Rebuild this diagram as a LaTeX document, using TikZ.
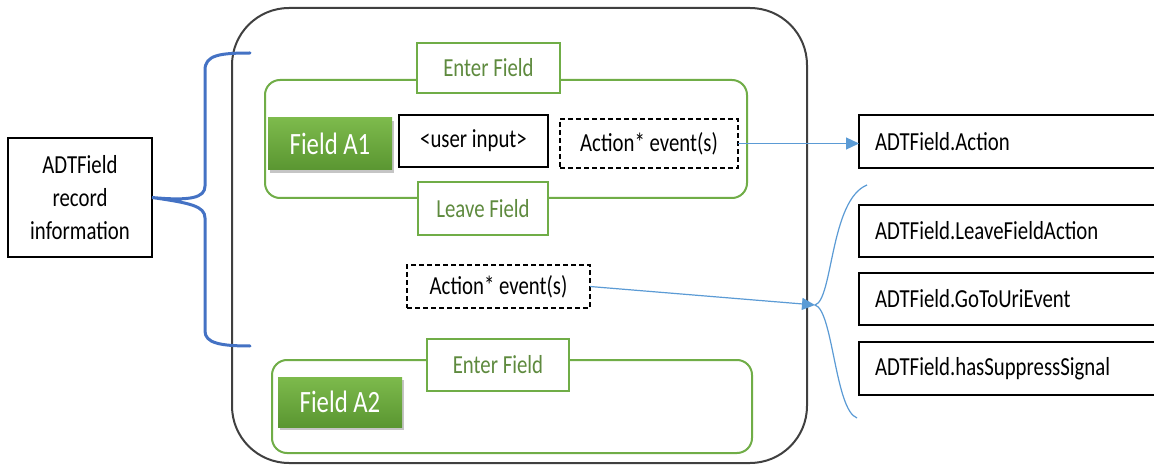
\documentclass[tikz,border=0pt]{standalone}
\usepackage{fontspec}
\setmainfont{Carlito}[FakeStretch=0.8]
\usetikzlibrary{arrows.meta,shadows}
\definecolor{gline}{HTML}{70AD47}
\definecolor{gtext}{HTML}{5E8A3E}
\definecolor{gtop}{HTML}{7DBA4C}
\definecolor{gbot}{HTML}{5A9631}
\definecolor{bracecol}{HTML}{4472C4}
\definecolor{conncol}{HTML}{5B9BD5}
\definecolor{outercol}{HTML}{404040}
\begin{document}
\begin{tikzpicture}[x=1pt,y=-1pt,
  every node/.style={inner sep=0pt, outer sep=0pt},
  txt/.style={font=\fontsize{26}{33}\selectfont},
  bbox/.style={draw=black, line width=1.8pt, fill=white, txt},
  dbox/.style={draw=black, line width=1.8pt, dash pattern=on 5pt off 3pt, fill=white, txt},
  grp/.style={draw=gline, line width=2pt, rounded corners=15pt},
  gbox/.style={draw=gline, line width=2pt, fill=white, text=gtext, txt},
  fblock/.style={top color=gtop, bottom color=gbot, text=white, font=\fontsize{31}{36}\selectfont, drop shadow={shadow xshift=2pt, shadow yshift=-3pt, opacity=0.45}},
  rbox/.style={draw=black, line width=1.8pt, fill=white, txt, anchor=west, text width=288pt, align=left, inner xsep=16pt},
  conn/.style={draw=conncol, line width=1.2pt},
  tipped/.style={-{Triangle[length=13pt,width=12pt]}}
]
\useasboundingbox (0,0) rectangle (1154,465);
\clip (0,0) rectangle (1154,465);
\fill[white] (0,0) rectangle (1154,465);

% outer container
\node[draw=outercol, line width=2pt, rounded corners=57pt, minimum width=575pt, minimum height=455pt] (outer) at (519.5,235.5) {};

% left info box
\node[bbox, minimum width=144pt, minimum height=119pt, align=center] (adt) at (80,197.5) {ADTField\\record\\information};

% brace
\draw[bracecol, line width=3pt, line cap=round]
  (250,53) .. controls (220,53) and (205,55) .. (205,70) -- (205,186)
  .. controls (205,198) and (190,201) .. (adt.east)
  .. controls (190,203) and (205,206) .. (205,218) -- (205,331)
  .. controls (205,343) and (220,346) .. (250,346);

% Field A1 group
\node[grp, minimum width=482pt, minimum height=118pt] (grpA) at (506,139) {};
\node[gbox, minimum width=143pt, minimum height=50pt] (enterA) at (488.5,68) {Enter Field};
\node[gbox, minimum width=130pt, minimum height=53pt] (leaveA) at (483,208.5) {Leave Field};
\node[fblock, minimum width=124pt, minimum height=52pt] (fieldA) at (330,144) {Field A1};
\node[bbox, minimum width=149pt, minimum height=52pt] (user) at (473.5,141) {<user input>};
\node[dbox, minimum width=178pt, minimum height=49pt] (actA) at (649,143.5) {Action* event(s)};

% second action box
\node[dbox, minimum width=183pt, minimum height=43pt] (actB) at (498.5,286.5) {Action* event(s)};

% Field A2 group
\node[grp, minimum width=480pt, minimum height=93pt] (grpB) at (512,406.5) {};
\node[gbox, minimum width=142pt, minimum height=52pt] (enterB) at (498,365) {Enter Field};
\node[fblock, minimum width=124pt, minimum height=50pt] (fieldB) at (340,402) {Field A2};

% right boxes
\node[rbox, minimum height=53pt] (action) at (859,141.5) {ADTField.Action};
\node[rbox, minimum height=52pt] (lfa) at (859,231) {ADTField.LeaveFieldAction};
\node[rbox, minimum height=52pt] (gtu) at (859,299) {ADTField.GoToUriEvent};
\node[rbox, minimum height=53pt] (hss) at (859,368.5) {ADTField.hasSuppressSignal};

% connectors
\draw[conn, tipped] (actA.east) -- (actA.east -| action.west);
\coordinate (M) at (815,305);
\coordinate (bt) at (867,185);
\coordinate (bb) at (857,418);
\draw[conn, tipped] (actB.east) -- (M);
\draw[conn] (bt) .. controls (830,200) and (833,300) .. (M)
  .. controls (833,310) and (835,410) .. (bb);
\end{tikzpicture}
\end{document}
